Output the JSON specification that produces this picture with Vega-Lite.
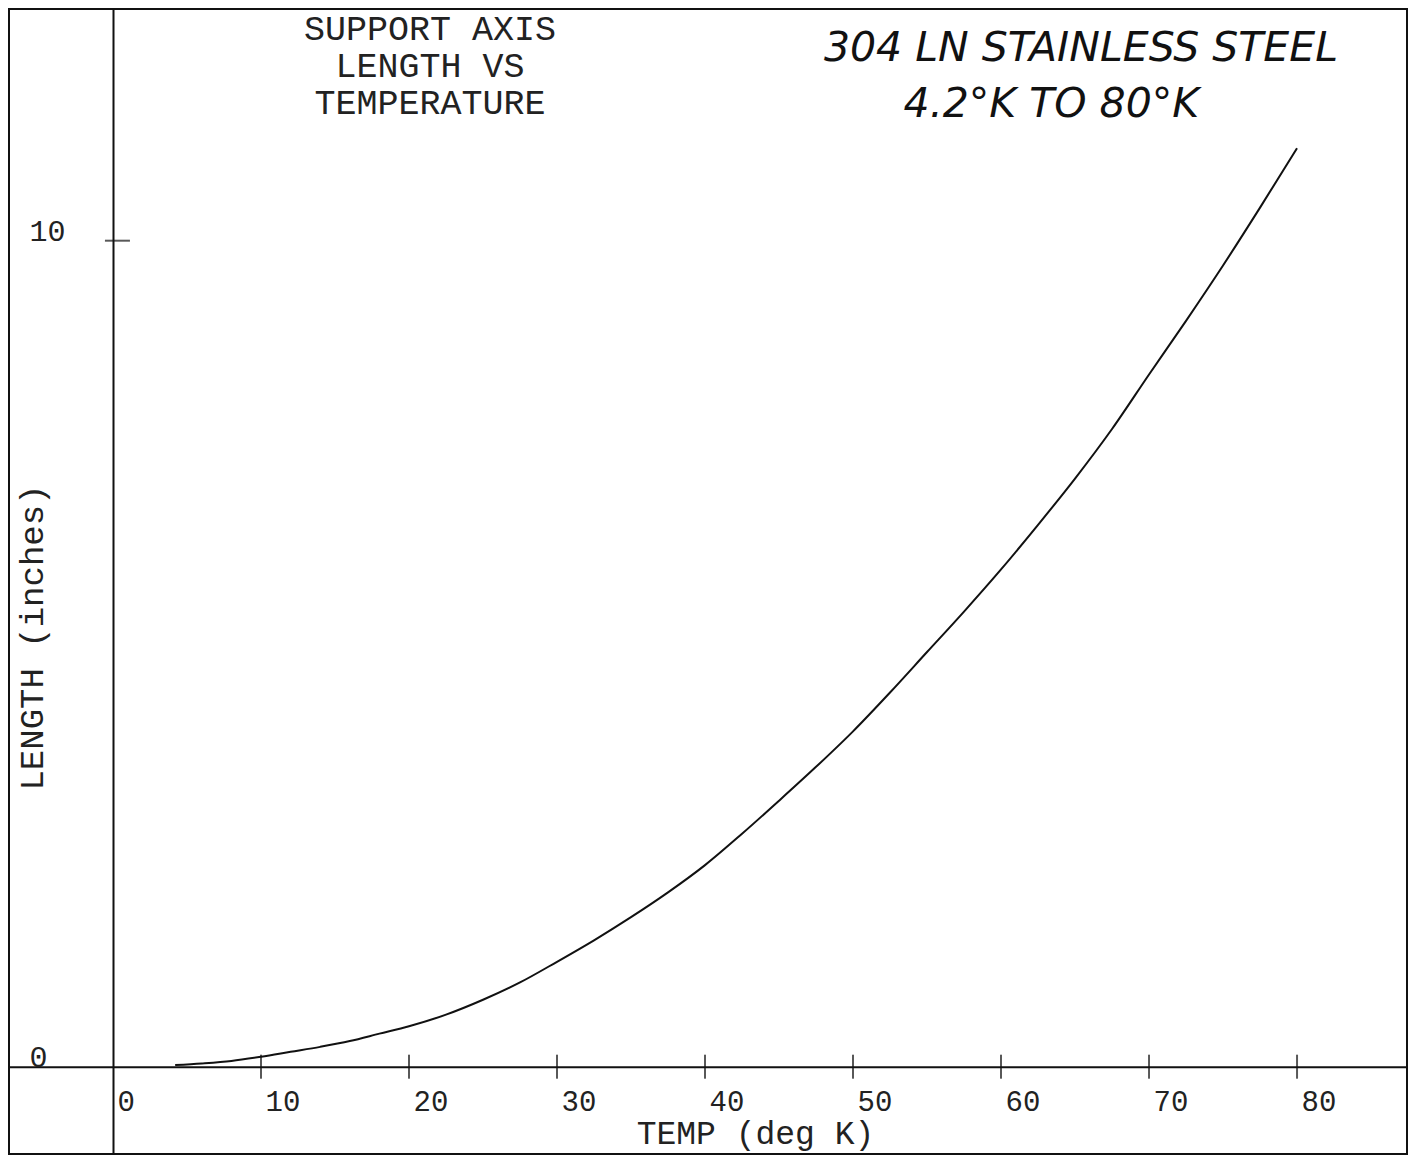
{
  "$schema": "https://vega.github.io/schema/vega-lite/v6.json",
  "width": 1398,
  "height": 1145,
  "autosize": {"type": "none"},
  "padding": {"left": 9, "top": 9, "right": 11, "bottom": 1},
  "background": "white",
  "config": {"view": {"stroke": "#111", "strokeWidth": 2}, "font": "Liberation Mono"},
  "datasets": {
    "curve": [
      {"T": 4.2, "L": 0.02}, {"T": 6, "L": 0.04}, {"T": 8, "L": 0.07}, {"T": 10, "L": 0.12},
      {"T": 12, "L": 0.18}, {"T": 14, "L": 0.24}, {"T": 16, "L": 0.31}, {"T": 18, "L": 0.4},
      {"T": 20, "L": 0.49}, {"T": 22.5, "L": 0.63}, {"T": 25, "L": 0.81}, {"T": 27.5, "L": 1.02},
      {"T": 30, "L": 1.27}, {"T": 32.5, "L": 1.53}, {"T": 35, "L": 1.81}, {"T": 37.5, "L": 2.11},
      {"T": 40, "L": 2.44}, {"T": 42.5, "L": 2.82}, {"T": 45, "L": 3.22}, {"T": 47.5, "L": 3.63},
      {"T": 50, "L": 4.06}, {"T": 52.5, "L": 4.53}, {"T": 55, "L": 5.02}, {"T": 57.5, "L": 5.51},
      {"T": 60, "L": 6.02}, {"T": 62.5, "L": 6.56}, {"T": 65, "L": 7.12}, {"T": 67.5, "L": 7.72},
      {"T": 70, "L": 8.38}, {"T": 72.5, "L": 9.03}, {"T": 75, "L": 9.7}, {"T": 77.5, "L": 10.4},
      {"T": 80, "L": 11.12}
    ],
    "xticks": [
      {"T": 10}, {"T": 20}, {"T": 30}, {"T": 40}, {"T": 50}, {"T": 60}, {"T": 70}, {"T": 80}
    ]
  },
  "layer": [
    {
      "data": {"name": "curve"},
      "mark": {"type": "line", "color": "#111", "strokeWidth": 2, "interpolate": "monotone"},
      "encoding": {
        "x": {
          "field": "T", "type": "quantitative",
          "scale": {"domain": [-7.027, 87.43], "nice": false, "zero": false},
          "axis": {
            "values": [0, 10, 20, 30, 40, 50, 60, 70, 80], "format": "d",
            "orient": "bottom", "offset": -87.3,
            "domain": true, "domainColor": "#111", "domainWidth": 2,
            "ticks": false, "tickSize": 0, "grid": false,
            "labelFont": "Liberation Mono", "labelFontSize": 29, "labelColor": "#222",
            "labelAlign": "left", "labelBaseline": "top", "labelPadding": 21, "labelOffset": 4,
            "labelFlush": false, "labelOverlap": false,
            "title": "TEMP (deg K)", "titleFont": "Liberation Mono", "titleFontSize": 33,
            "titleFontWeight": "normal", "titleColor": "#222",
            "titleX": 746, "titleY": 77, "titleBaseline": "alphabetic", "titleAlign": "center"
          }
        },
        "y": {
          "field": "L", "type": "quantitative",
          "scale": {"domain": [-1.057, 12.805], "nice": false, "zero": false},
          "axis": {
            "values": [0, 10], "format": "d",
            "orient": "left", "offset": -104,
            "domain": true, "domainColor": "#111", "domainWidth": 2,
            "ticks": false, "tickSize": 0, "grid": false,
            "labelFont": "Liberation Mono", "labelFontSize": 30, "labelColor": "#222",
            "labelAlign": "left", "labelBaseline": "alphabetic", "labelPadding": 84,
            "labelFlush": false, "labelOverlap": false,
            "title": "LENGTH (inches)", "titleFont": "Liberation Mono", "titleFontSize": 34,
            "titleFontWeight": "normal", "titleColor": "#222",
            "titleX": -71, "titleY": 628, "titleAngle": 270,
            "titleBaseline": "alphabetic", "titleAlign": "center"
          }
        }
      }
    },
    {
      "data": {"name": "xticks"},
      "mark": {"type": "tick", "orient": "vertical", "size": 24, "thickness": 2, "color": "#111"},
      "encoding": {
        "x": {"field": "T", "type": "quantitative"},
        "y": {"datum": 0}
      }
    },
    {
      "data": {"values": [{}]},
      "mark": {"type": "tick", "orient": "horizontal", "size": 25, "thickness": 2, "color": "#111"},
      "encoding": {
        "x": {"datum": 0.3},
        "y": {"datum": 10}
      }
    },
    {
      "data": {"values": [{}]},
      "mark": {"type": "text", "font": "Liberation Mono", "fontSize": 35, "align": "center", "baseline": "alphabetic", "lineHeight": 37, "color": "#222"},
      "encoding": {
        "x": {"datum": 21.42},
        "y": {"datum": 12.43},
        "text": {"value": ["SUPPORT AXIS", "LENGTH VS", "TEMPERATURE"]}
      }
    },
    {
      "data": {"values": [{}]},
      "mark": {"type": "text", "font": "DejaVu Sans", "fontStyle": "italic", "fontSize": 41, "align": "center", "baseline": "alphabetic", "color": "#111"},
      "encoding": {
        "x": {"datum": 65.4},
        "y": {"datum": 12.17},
        "text": {"value": "304 LN STAINLESS STEEL"}
      }
    },
    {
      "data": {"values": [{}]},
      "mark": {"type": "text", "font": "DejaVu Sans", "fontStyle": "italic", "fontSize": 41, "align": "center", "baseline": "alphabetic", "color": "#111"},
      "encoding": {
        "x": {"datum": 63.4},
        "y": {"datum": 11.5},
        "text": {"value": "4.2°K TO 80°K"}
      }
    }
  ]
}
